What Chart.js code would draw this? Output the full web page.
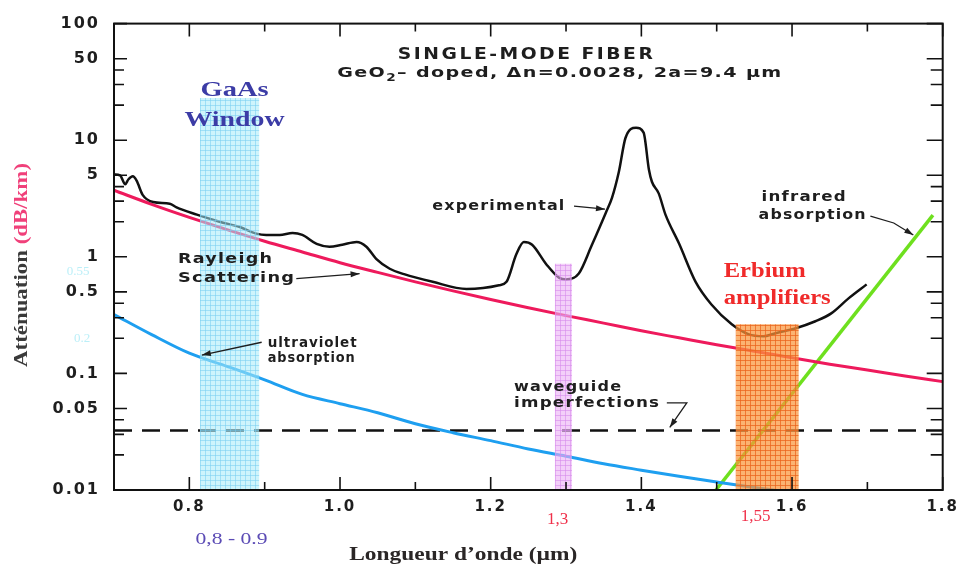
<!DOCTYPE html>
<html>
<head>
<meta charset="utf-8">
<script src="https://cdn.jsdelivr.net/npm/chart.js@4.4.0/dist/chart.umd.min.js"></script>
<style>
  html, body { margin: 0; padding: 0; background: #fff; }
</style>
</head>
<body>
<canvas id="fiberChart" width="964" height="569"></canvas>
<script>
// Données (longueur d'onde en µm, atténuation en dB/km)
const experimentalLambda = [0.700, 0.708, 0.715, 0.719, 0.725, 0.730, 0.738, 0.752, 0.774, 0.783, 0.810, 0.840, 0.867, 0.889, 0.902, 0.920, 0.937, 0.950, 0.969, 0.986, 1.003, 1.022, 1.035, 1.048, 1.066, 1.085, 1.123, 1.168, 1.211, 1.221, 1.234, 1.244, 1.255, 1.274, 1.291, 1.300, 1.317, 1.334, 1.353, 1.361, 1.370, 1.379, 1.393, 1.403, 1.410, 1.414, 1.423, 1.432, 1.450, 1.472, 1.493, 1.520, 1.542, 1.562, 1.578, 1.605, 1.631, 1.652, 1.675, 1.699];
const experimentalDb = [5.1, 5.0, 4.2, 4.6, 4.9, 4.5, 3.4, 2.95, 2.85, 2.65, 2.3, 2.0, 1.8, 1.58, 1.54, 1.54, 1.60, 1.54, 1.29, 1.22, 1.27, 1.34, 1.22, 0.96, 0.79, 0.71, 0.61, 0.53, 0.57, 0.61, 1.05, 1.34, 1.27, 0.86, 0.66, 0.64, 0.72, 1.25, 2.4, 3.2, 5.3, 10.5, 12.8, 11.6, 5.6, 4.4, 3.5, 2.3, 1.3, 0.61, 0.39, 0.264, 0.217, 0.208, 0.221, 0.244, 0.28, 0.327, 0.44, 0.58];

const rayleighLambda = [0.70, 0.75, 0.80, 0.85, 0.90, 0.95, 1.00, 1.05, 1.10, 1.15, 1.20, 1.25, 1.30, 1.35, 1.40, 1.45, 1.50, 1.55, 1.60, 1.65, 1.70, 1.75, 1.80];
const rayleighDb = [3.72, 2.82, 2.18, 1.71, 1.36, 1.10, 0.89, 0.735, 0.61, 0.51, 0.43, 0.366, 0.313, 0.27, 0.232, 0.202, 0.176, 0.155, 0.136, 0.12, 0.107, 0.095, 0.085];

const uvLambda = [0.70, 0.75, 0.80, 0.85, 0.90, 0.95, 1.00, 1.05, 1.10, 1.15, 1.20, 1.25, 1.30, 1.35, 1.40, 1.45, 1.50, 1.55, 1.58];
const uvDb = [0.32, 0.215, 0.149, 0.115, 0.088, 0.066, 0.055, 0.046, 0.037, 0.031, 0.0265, 0.0225, 0.0195, 0.0168, 0.0148, 0.0131, 0.0117, 0.0105, 0.0099];

const irLambda = [1.499, 1.787];
const irDb = [0.0100, 2.28];

const waveguideLambda = [0.70, 1.80];
const waveguideDb = [0.0324, 0.0324];

// Fenêtres (début, fin) et hauteur en dB/km
const gaasWindow = [0.814, 0.893];
const gaasTop = 23;
const window13 = [1.285, 1.308];
const window13Top = 0.87;
const erbiumWindow = [1.525, 1.609];
const erbiumTop = 0.264;

// Graduations
const xTicks = [0.7, 0.8, 0.9, 1.0, 1.1, 1.2, 1.3, 1.4, 1.5, 1.6, 1.7, 1.8];
const xTickLabels = [0.8, 1.0, 1.2, 1.4, 1.6, 1.8];
const yTicks = [0.01, 0.02, 0.03, 0.04, 0.05, 0.1, 0.2, 0.3, 0.4, 0.5, 1, 2, 3, 4, 5, 10, 20, 30, 40, 50, 100];
const yTickLabels = [0.01, 0.05, 0.1, 0.5, 1, 5, 10, 50, 100];

const toPoints = (xs, ys) => xs.map((x, i) => ({ x: x, y: ys[i] }));
const isMajorX = v => xTickLabels.some(t => Math.abs(t - v) < 1e-6);

const canvas = document.getElementById('fiberChart');
const ctx = canvas.getContext('2d');

// Motif quadrillé pour les fenêtres colorées
function gridPattern(bg, line) {
    const c = document.createElement('canvas');
    c.width = 5;
    c.height = 5;
    const g = c.getContext('2d');
    g.fillStyle = bg;
    g.fillRect(0, 0, 5, 5);
    g.fillStyle = line;
    g.fillRect(0, 0, 5, 1);
    g.fillRect(0, 0, 1, 5);
    return ctx.createPattern(c, 'repeat');
}

function windowDataset(range, top, pattern) {
    return {
        data: [{ x: range[0], y: top }, { x: range[1], y: top }],
        borderWidth: 0,
        borderColor: 'rgba(0,0,0,0)',
        backgroundColor: pattern,
        fill: 'start',
        pointRadius: 0
    };
}

// Texte étiré horizontalement jusqu'à une largeur donnée
function drawRuns(c, runs, x, y, width, align, spacing) {
    spacing = spacing || 0;
    let natural = 0;
    let count = 0;
    runs.forEach(r => {
        c.font = r.font;
        c.letterSpacing = '0px';
        r.w = c.measureText(r.t).width;
        natural += r.w;
        count += r.t.length;
    });
    natural += spacing * (count - 1);
    const k = width ? width / natural : 1;
    const total = natural * k;
    c.save();
    c.translate(align === 'center' ? x - total / 2 : x, y);
    c.scale(k, 1);
    c.textAlign = 'left';
    c.textBaseline = 'middle';
    let cx = 0;
    runs.forEach(r => {
        c.font = r.font;
        c.fillStyle = r.color;
        c.letterSpacing = spacing + 'px';
        c.fillText(r.t, cx, r.dy || 0);
        cx += r.w + spacing * r.t.length;
    });
    c.letterSpacing = '0px';
    c.restore();
}

function arrow(c, pts) {
    c.beginPath();
    c.moveTo(pts[0][0], pts[0][1]);
    for (let i = 1; i < pts.length; i++) c.lineTo(pts[i][0], pts[i][1]);
    c.stroke();
    const [x1, y1] = pts[pts.length - 1];
    const [x0, y0] = pts[pts.length - 2];
    const a = Math.atan2(y1 - y0, x1 - x0);
    c.beginPath();
    c.moveTo(x1, y1);
    c.lineTo(x1 - 9 * Math.cos(a) + 3 * Math.sin(a), y1 - 9 * Math.sin(a) - 3 * Math.cos(a));
    c.lineTo(x1 - 9 * Math.cos(a) - 3 * Math.sin(a), y1 - 9 * Math.sin(a) + 3 * Math.cos(a));
    c.closePath();
    c.fill();
}

const LETTER = 'bold 14px "DejaVu Sans"';
const SERIF = '"Liberation Serif", "Times New Roman", serif';

const decorPlugin = {
    id: 'decor',
    beforeDraw(chart) {
        const c = chart.ctx;
        c.save();
        c.fillStyle = '#fff';
        c.fillRect(0, 0, chart.width, chart.height);
        c.restore();
        c.letterSpacing = '2px';
    },
    beforeDatasetsDraw(chart) {
        chart.ctx.letterSpacing = '0px';
    },
    afterDatasetsDraw(chart) {
        const { ctx: c, chartArea: a, scales: { x, y } } = chart;
        c.save();
        c.strokeStyle = '#111';
        c.lineWidth = 2;
        c.strokeRect(a.left, a.top, a.right - a.left, a.bottom - a.top);
        c.lineWidth = 1.6;
        c.beginPath();
        xTicks.forEach(v => {
            const px = x.getPixelForValue(v);
            const len = isMajorX(v) ? 13 : 8;
            c.moveTo(px, a.bottom); c.lineTo(px, a.bottom - len);
            c.moveTo(px, a.top); c.lineTo(px, a.top + len);
        });
        yTicks.forEach(v => {
            const py = y.getPixelForValue(v);
            const major = yTickLabels.includes(v);
            c.moveTo(a.left, py); c.lineTo(a.left + (major ? 13 : 10), py);
            c.moveTo(a.right, py); c.lineTo(a.right - (major ? 16 : 12), py);
        });
        c.stroke();
        c.restore();
    },
    afterDraw(chart) {
        const { ctx: c, chartArea: a, scales: { x, y } } = chart;
        const X = v => x.getPixelForValue(v);
        const Y = v => y.getPixelForValue(v);
        c.save();
        const ink = '#1e1e1e';

        // Titre
        drawRuns(c, [{ t: 'SINGLE-MODE FIBER', font: 'bold 15px "DejaVu Sans"', color: ink }], X(1.246), Y(53.4), 255, 'center', 2);
        drawRuns(c, [
            { t: 'GeO', font: 'bold 14px "DejaVu Sans"', color: ink },
            { t: '2', font: 'bold 10px "DejaVu Sans"', color: ink, dy: 5 },
            { t: '\u2013 doped, \u0394n=0.0028, 2a=9.4 \u00b5m', font: 'bold 14px "DejaVu Sans"', color: ink }
        ], X(1.291), Y(37.5), 444, 'center', 1);

        // Fenêtres
        const blue = '#3c3ca6';
        drawRuns(c, [{ t: 'GaAs', font: 'bold 21px ' + SERIF, color: blue }], X(0.860), Y(26.9), 68, 'center');
        drawRuns(c, [{ t: 'Window', font: 'bold 21px ' + SERIF, color: blue }], X(0.860), Y(14.7), 100, 'center');
        const red = '#f02a2a';
        drawRuns(c, [{ t: 'Erbium', font: 'bold 20px ' + SERIF, color: red }], X(1.5093), Y(0.745), 82, 'left');
        drawRuns(c, [{ t: 'amplifiers', font: 'bold 20px ' + SERIF, color: red }], X(1.5093), Y(0.439), 107, 'left');

        // Étiquettes des courbes
        const labels = [
            ['Rayleigh', 0.785, 0.96, 94], ['Scattering', 0.785, 0.65, 116],
            ['ultraviolet', 0.904, 0.182, 89], ['absorption', 0.904, 0.1355, 87],
            ['experimental', 1.1225, 2.72, 132],
            ['infrared', 1.5596, 3.24, 84], ['absorption', 1.5556, 2.28, 107],
            ['waveguide', 1.231, 0.0752, 107], ['imperfections', 1.231, 0.055, 145]
        ];
        labels.forEach(l => drawRuns(c, [{ t: l[0], font: LETTER, color: ink }], X(l[1]), Y(l[2]), l[3], 'left', 1));

        c.strokeStyle = ink;
        c.fillStyle = ink;
        c.lineWidth = 1.3;
        arrow(c, [[X(0.942), Y(0.65)], [X(1.026), Y(0.717)]]);
        arrow(c, [[X(0.896), Y(0.185)], [X(0.8166), Y(0.1437)]]);
        arrow(c, [[X(1.3106), Y(2.72)], [X(1.3517), Y(2.56)]]);
        arrow(c, [[X(1.704), Y(2.23)], [X(1.735), Y(1.95)], [X(1.761), Y(1.54)]]);
        arrow(c, [[X(1.4338), Y(0.0559)], [X(1.4603), Y(0.0559)], [X(1.4377), Y(0.0344)]]);

        // Valeurs sous l'axe
        drawRuns(c, [{ t: '0,8 - 0.9', font: '17px ' + SERIF, color: '#5b4bb5' }], X(0.856), a.bottom + 50, 72, 'center');
        drawRuns(c, [{ t: '1,3', font: '17px ' + SERIF, color: '#f0304a' }], X(1.289), a.bottom + 30, 0, 'center');
        drawRuns(c, [{ t: '1,55', font: '17px ' + SERIF, color: '#f0304a' }], X(1.5517), a.bottom + 27, 0, 'center');

        // Marques pâles près de l'axe
        drawRuns(c, [{ t: '0.55', font: '13px ' + SERIF, color: 'rgba(160,232,245,0.7)' }], a.left - 36, Y(0.75), 0, 'center');
        drawRuns(c, [{ t: '0.2', font: '13px ' + SERIF, color: 'rgba(160,232,245,0.7)' }], a.left - 32, Y(0.2), 0, 'center');

        // Titres des axes
        drawRuns(c, [{ t: 'Longueur d\u2019onde (\u00b5m)', font: 'bold 19px ' + SERIF, color: '#2a2626' }], X(1.1636), a.bottom + 65, 228, 'center');
        c.translate(22, 265);
        c.rotate(-Math.PI / 2);
        drawRuns(c, [
            { t: 'Att\u00e9nuation ', font: 'bold 19px ' + SERIF, color: '#3a3a3a' },
            { t: '(dB/km)', font: 'bold 19px ' + SERIF, color: '#f0407a' }
        ], 0, 0, 204, 'center');
        c.restore();
    }
};

new Chart(ctx, {
    type: 'line',
    data: {
        datasets: [
            windowDataset(gaasWindow, gaasTop, gridPattern('rgba(165,235,250,0.55)', 'rgba(120,205,240,0.55)')),
            windowDataset(window13, window13Top, gridPattern('rgba(235,175,245,0.6)', 'rgba(215,140,235,0.6)')),
            windowDataset(erbiumWindow, erbiumTop, gridPattern('rgba(250,150,60,0.72)', 'rgba(235,100,30,0.75)')),
            {
                label: 'experimental',
                data: toPoints(experimentalLambda, experimentalDb),
                borderColor: '#111',
                borderWidth: 2.5,
                cubicInterpolationMode: 'monotone',
                pointRadius: 0
            },
            {
                label: 'Rayleigh',
                data: toPoints(rayleighLambda, rayleighDb),
                borderColor: '#ee1a5c',
                borderWidth: 3,
                cubicInterpolationMode: 'monotone',
                pointRadius: 0
            },
            {
                label: 'ultraviolet',
                data: toPoints(uvLambda, uvDb),
                borderColor: '#1e9ff0',
                borderWidth: 3,
                cubicInterpolationMode: 'monotone',
                pointRadius: 0
            },
            {
                label: 'infrared',
                data: toPoints(irLambda, irDb),
                borderColor: '#6ee01e',
                borderWidth: 3.5,
                pointRadius: 0
            },
            {
                label: 'waveguide',
                data: toPoints(waveguideLambda, waveguideDb),
                borderColor: '#111',
                borderWidth: 2.5,
                borderDash: [18, 10],
                pointRadius: 0
            }
        ]
    },
    options: {
        responsive: false,
        animation: false,
        events: [],
        layout: { padding: { top: 20, right: 20, left: 0, bottom: 0 } },
        plugins: {
            legend: { display: false },
            tooltip: { enabled: false }
        },
        scales: {
            x: {
                type: 'linear',
                min: 0.7,
                max: 1.8,
                grid: { display: false, drawTicks: false },
                border: { display: false },
                afterBuildTicks: s => { s.ticks = xTicks.map(v => ({ value: v })); },
                afterFit: s => { s.height = 79; },
                ticks: {
                    autoSkip: false,
                    maxRotation: 0,
                    padding: 8,
                    color: '#1e1e1e',
                    font: { family: 'DejaVu Sans', weight: 'bold', size: 15 },
                    callback: v => isMajorX(v) ? v.toFixed(1) : ''
                }
            },
            y: {
                type: 'logarithmic',
                min: 0.01,
                max: 100,
                grid: { display: false, drawTicks: false },
                border: { display: false },
                afterBuildTicks: s => { s.ticks = yTicks.map(v => ({ value: v })); },
                afterFit: s => { s.width = 114; },
                ticks: {
                    autoSkip: false,
                    padding: 14,
                    color: '#1e1e1e',
                    font: { family: 'DejaVu Sans', weight: 'bold', size: 16 },
                    callback: v => yTickLabels.includes(v) ? String(v) : ''
                }
            }
        }
    },
    plugins: [decorPlugin]
});
</script>
</body>
</html>
